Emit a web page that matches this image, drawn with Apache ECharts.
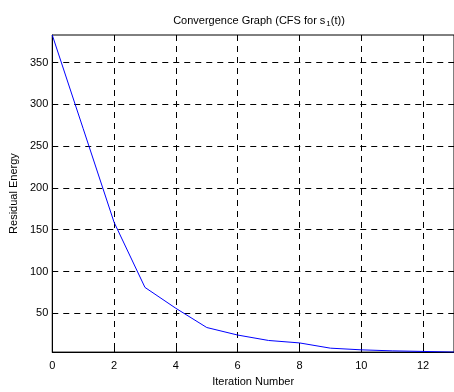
<!DOCTYPE html>
<html><head><meta charset="utf-8">
<script src="https://cdn.jsdelivr.net/npm/echarts@6/dist/echarts.min.js"></script>
<style>html,body{margin:0;padding:0;background:#fff}#c{width:454px;height:392px}</style>
</head><body><div id="c"></div>
<script>
const iterations = [0,1,2,3,4,5,6,7,8,9,10,11,12,13];
const residualEnergy = [383,271,159,81,56,33,24,17.5,14.6,8.3,6.3,5.1,4.4,3.6];
const yTicks = [50,100,150,200,250,300,350];
const xTicks = [0,2,4,6,8,10,12];

const chart = echarts.init(document.getElementById('c'), null, {renderer:'canvas'});
const font = 'Liberation Sans, Arial, sans-serif';
const dash = {color:'#000', type:[6,5], width:1};
chart.setOption({
  animation:false,
  backgroundColor:'#fff',
  title:{
    text:'{a|Convergence Graph (CFS for s}{s|1}{a|(t))}',
    left:254, top:9, textAlign:'center',
    textStyle:{fontWeight:'normal',rich:{
      a:{fontFamily:font,fontSize:11,color:'#000',fontWeight:'normal'},
      s:{fontFamily:font,fontSize:8,color:'#000',fontWeight:'normal',verticalAlign:'bottom',padding:[6,0,0,1]}
    }}
  },
  grid:{left:52, top:35, right:-4, bottom:38, show:true, borderColor:'#000', borderWidth:1},
  xAxis:{
    type:'value', min:0, max:13,
    name:'Iteration Number', nameLocation:'middle', nameGap:20,
    nameTextStyle:{fontFamily:font,fontSize:11,color:'#000'},
    axisLine:{show:true,lineStyle:{color:'#000',width:1}},
    axisTick:{show:true,inside:true,length:4,customValues:xTicks,lineStyle:{color:'#000'}},
    axisLabel:{customValues:xTicks,fontFamily:font,fontSize:11,color:'#000',margin:8},
    splitLine:{show:true,lineStyle:dash}
  },
  yAxis:{
    type:'value', min:3.6, max:383,
    name:'Residual Energy', nameLocation:'middle', nameGap:32, nameRotate:90,
    nameTextStyle:{fontFamily:font,fontSize:11,color:'#000'},
    axisLine:{show:true,lineStyle:{color:'#000',width:1}},
    axisTick:{show:true,inside:true,length:4,customValues:yTicks,lineStyle:{color:'#000'}},
    axisLabel:{customValues:yTicks,fontFamily:font,fontSize:11,color:'#000',margin:4},
    splitLine:{show:true,lineStyle:dash}
  },
  series:[{
    type:'line', data:iterations.map((x,i)=>[x,residualEnergy[i]]),
    showSymbol:false, lineStyle:{color:'#0000ff',width:1}, itemStyle:{color:'#0000ff'}
  }]
});
</script></body></html>
